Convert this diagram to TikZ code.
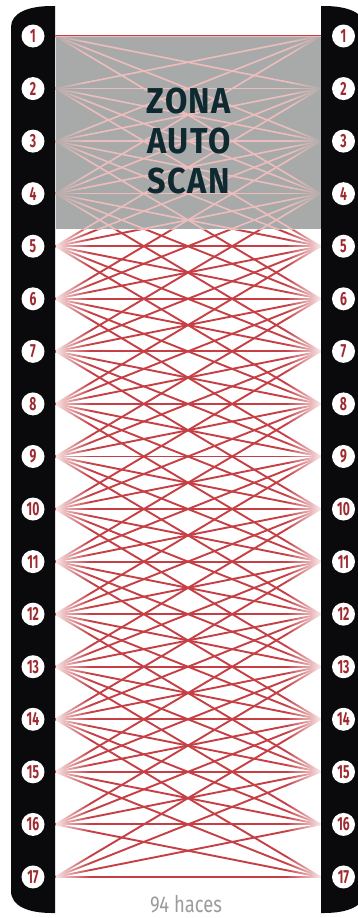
\documentclass[tikz,border=0pt]{standalone}
\usepackage{fontspec}
\usetikzlibrary{fadings}
\newfontfamily\numfont[FakeStretch=0.64]{Fira Sans}
\newfontfamily\capfont[FakeStretch=0.8]{Fira Sans}
\newfontfamily\ttlfont[FakeStretch=0.9,LetterSpace=4]{Fira Sans}
\definecolor{barblack}{HTML}{0A0A0C}
\definecolor{beamred}{HTML}{C63F45}
\definecolor{numred}{HTML}{9E2A2F}
\definecolor{zonegrey}{HTML}{A8AAA9}
\definecolor{beampink}{HTML}{EDBDBD}
\definecolor{ttlcol}{HTML}{0E2A30}
\definecolor{capgrey}{HTML}{9B9B9B}
\tikzfading[name=fadeL, left color=transparent!12, right color=transparent!100]
\tikzfading[name=fadeR, left color=transparent!100, right color=transparent!12]
\begin{document}
\begin{tikzpicture}[x=1pt,y=-1pt,
  beam/.style={beamred, line width=1.9pt},
  pinkbeam/.style={beampink, line width=1.6pt},
  numcircle/.style={circle, fill=white, minimum size=23pt, inner sep=0pt,
    text=numred, font=\numfont\bfseries\fontsize{19}{19}\selectfont},
  barshape/.style={fill=barblack}]
\useasboundingbox (0,0) rectangle (358,918);
\clip (0,0) rectangle (358,918);
% bars
\fill[barshape] (55,6) -- (55,913) -- (52,913) .. controls (28,913) and (11,906) .. (11,891)
  -- (11,27) .. controls (11,13) and (28,6) .. (52,6) -- cycle;
\fill[barshape] (321,6) -- (321,913) -- (324,913) .. controls (348,913) and (365,906) .. (365,891)
  -- (365,27) .. controls (365,13) and (348,6) .. (324,6) -- cycle;
% points
\foreach \i in {1,...,17}{
  \pgfmathsetmacro\yy{36+(\i-1)*52.56}
  \coordinate (L\i) at (55.5,\yy);
  \coordinate (R\i) at (320.5,\yy);
  \node[numcircle] (CL\i) at (33,\yy) {\i};
  \node[numcircle] (CR\i) at (343.5,\yy) {\i};
}
% beams
\foreach \i in {1,...,17}{
  \foreach \d in {-3,...,3}{
    \pgfmathtruncatemacro\j{\i+\d}
    \ifnum\j>0 \ifnum\j<18 \draw[beam] (L\i) -- (R\j); \fi\fi
  }
}
% zone
\node[fill=zonegrey, inner sep=0pt, minimum width=265pt, minimum height=193pt, anchor=north west] (zone) at (55.5,36) {};
\begin{scope}
\clip (zone.north west) rectangle (zone.south east);
\foreach \i in {1,...,17}{
  \foreach \d in {-3,...,3}{
    \pgfmathtruncatemacro\j{\i+\d}
    \ifnum\j>0 \ifnum\j<18 \draw[pinkbeam] (L\i) -- (R\j); \fi\fi
  }
}
\draw[pinkbeam] (L1) -- (R1);
\end{scope}
% fades near the points
\fill[white, path fading=fadeL] (55.5,229) rectangle (90,918);
\fill[white, path fading=fadeR] (286,229) rectangle (320.5,918);
\fill[zonegrey, path fading=fadeL] (55.5,37) rectangle (85,229);
\fill[zonegrey, path fading=fadeR] (291,37) rectangle (320.5,229);
% title
\node[text=ttlcol, font=\ttlfont\bfseries\fontsize{36}{40}\selectfont, align=center] (title) at (189,141) {ZONA\\AUTO\\SCAN};
\node[text=capgrey, font=\capfont\fontsize{23}{23}\selectfont, anchor=base] (caption) at (186,912) {94 haces};
\end{tikzpicture}
\end{document}
